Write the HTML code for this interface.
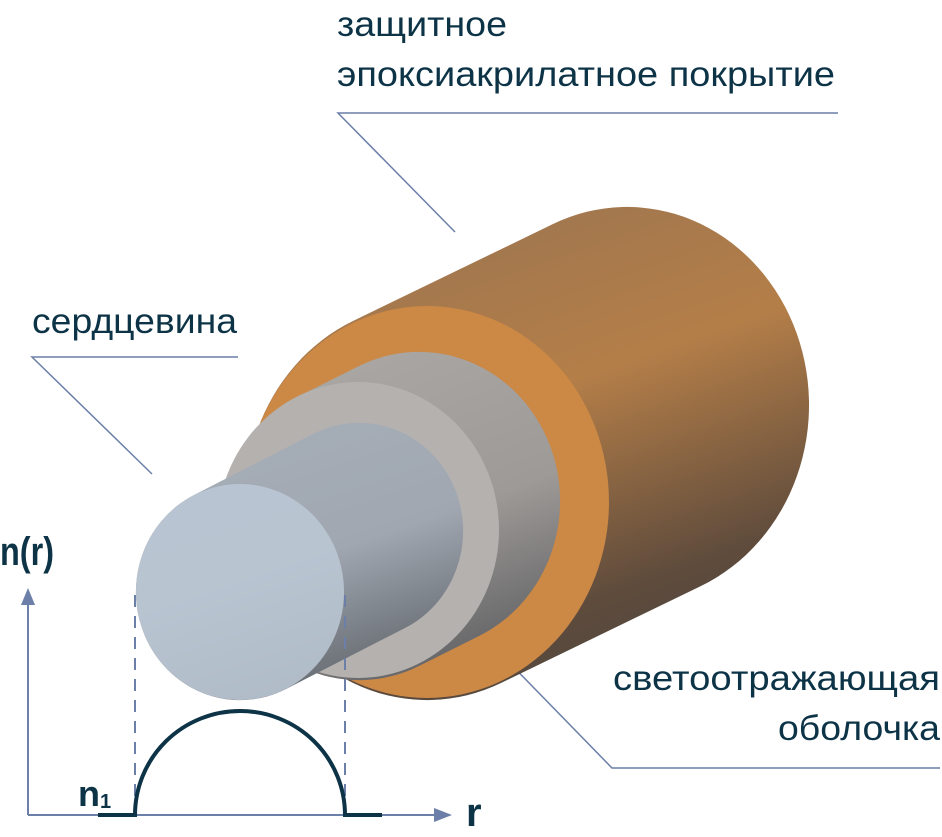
<!DOCTYPE html>
<html><head><meta charset="utf-8"><style>html,body{margin:0;padding:0;background:#fff;}svg{display:block}</style></head>
<body>
<svg width="942" height="837" viewBox="0 0 942 837" xmlns="http://www.w3.org/2000/svg">
<defs>
<linearGradient id="og" x1="0.3" y1="0" x2="0.7" y2="1">
<stop offset="0" stop-color="#9c7550"/><stop offset="0.4" stop-color="#b47e48"/><stop offset="0.8" stop-color="#5e4b3c"/><stop offset="1" stop-color="#4e4740"/>
</linearGradient>
<linearGradient id="gg" x1="0.3" y1="0" x2="0.7" y2="1">
<stop offset="0" stop-color="#aaa7a4"/><stop offset="0.55" stop-color="#9e9a97"/><stop offset="1" stop-color="#5e5f62"/>
</linearGradient>
<linearGradient id="cg" x1="0.3" y1="0" x2="0.7" y2="1">
<stop offset="0" stop-color="#a6aeb8"/><stop offset="0.5" stop-color="#a0a7b1"/><stop offset="1" stop-color="#5c6065"/>
</linearGradient>
</defs>
<g font-family="'Liberation Sans Narrow','Liberation Sans',sans-serif" fill="#0d3347" font-size="35">
<text x="337" y="36" textLength="170" lengthAdjust="spacingAndGlyphs">защитное</text>
<text x="337" y="86" textLength="498" lengthAdjust="spacingAndGlyphs">эпоксиакрилатное покрытие</text>
<text x="32" y="333" textLength="205" lengthAdjust="spacingAndGlyphs">сердцевина</text>
<text x="613" y="690" textLength="327" lengthAdjust="spacingAndGlyphs">светоотражающая</text>
<text x="778" y="740" textLength="162" lengthAdjust="spacingAndGlyphs">оболочка</text>
</g>
<g stroke="#6b7fa8" stroke-width="1.5" fill="none">
<polyline points="838,113 338,113 455,232"/>
<polyline points="238,357 32,357 152,474"/>
<polyline points="497,650 612,768 940,768"/>
</g>
<path d="M353,321 L553,224 A182 198 0 0 1 701,586 L501,683 A182 198 0 0 1 353,321 Z" fill="url(#og)"/>
<ellipse cx="427" cy="502" rx="182" ry="196" fill="#cc8845"/>
<path d="M299,396 L359,366 A141 149 0 0 1 479,636 L419,666 A141 149 0 0 1 299,396 Z" fill="url(#gg)"/>
<ellipse cx="358" cy="530" rx="141" ry="148" fill="#b4b1af"/>
<path d="M194,495 L313,434 A104 108 0 0 1 405,628 L286,689 A104 108 0 0 1 194,495 Z" fill="url(#cg)"/>
<ellipse cx="240" cy="592" rx="104" ry="108" fill="#bdc8d6" opacity="0.86"/>
<g stroke="#6b7fa8" stroke-width="2" fill="none">
<line x1="28" y1="815" x2="28" y2="598"/>
<line x1="28" y1="815" x2="440" y2="815"/>
<line x1="135" y1="595" x2="135" y2="812" stroke-dasharray="12,9"/>
<line x1="345" y1="595" x2="345" y2="812" stroke-dasharray="12,9"/>
</g>
<polygon points="28,588 21,605 35,605" fill="#6b7fa8"/>
<polygon points="452,815 434,808 434,822" fill="#6b7fa8"/>
<path d="M98,815 L135,815 A105 104 0 0 1 345,815 L382,815" stroke="#0d3347" stroke-width="4" fill="none"/>
<g font-family="'Liberation Sans Narrow','Liberation Sans',sans-serif" fill="#0d3347" font-weight="bold">
<text x="0" y="565" font-size="40" textLength="54" lengthAdjust="spacingAndGlyphs">n(r)</text>
<text x="78" y="806" font-size="36">n</text>
<text x="100" y="808" font-size="20">1</text>
<text x="466" y="826" font-size="40">r</text>
</g>
</svg>
</body></html>
